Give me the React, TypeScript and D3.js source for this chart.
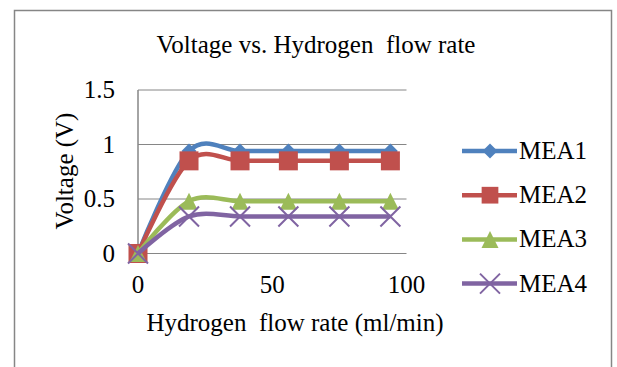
import * as d3 from "d3"

const W = 617
const H = 367
const FONT = '"Liberation Serif", "DejaVu Serif", serif'
const GRID = "#868686"

// flow rate (ml/min)
const flowRates = [0, 19, 38, 56, 75, 94]
// voltage (V)
const mea1 = [0, 0.94, 0.94, 0.94, 0.94, 0.94]
const mea2 = [0, 0.85, 0.85, 0.85, 0.85, 0.85]
const mea3 = [0, 0.48, 0.48, 0.48, 0.48, 0.48]
const mea4 = [0, 0.34, 0.34, 0.34, 0.34, 0.34]
const seriesNames = ["MEA1", "MEA2", "MEA3", "MEA4"]
const seriesColors = ["#4F81BD", "#C0504D", "#9BBB59", "#8064A2"]
const yTicks = [0, 0.5, 1, 1.5]
const xTicks = [0, 50, 100]

const plot = { left: 138, right: 406.5, top: 90, bottom: 253.5 }

const x = d3.scaleLinear().domain([0, 100]).range([plot.left, plot.right])
const y = d3.scaleLinear().domain([0, 1.5]).range([plot.bottom, plot.top])

const line = d3
  .line<[number, number]>()
  .x((d) => x(d[0]))
  .y((d) => y(d[1]))
  .curve(d3.curveCardinal.tension(0))

const textStyle = { fontFamily: FONT, fontSize: "25px", whiteSpace: "pre" as const }

function Marker({ kind, cx, cy, color, size = 1 }: { kind: number; cx: number; cy: number; color: string; size?: number }) {
  if (kind === 0) {
    const r = 7.5 * size
    return <path d={`M${cx},${cy - r}L${cx + r},${cy}L${cx},${cy + r}L${cx - r},${cy}Z`} fill={color} />
  }
  if (kind === 1) {
    const s = 19 * size
    return <rect x={cx - s / 2} y={cy - s / 2} width={s} height={s} fill={color} />
  }
  if (kind === 2) {
    const s = 17 * size
    return <path d={`M${cx},${cy - s / 2}L${cx + s / 2},${cy + s / 2}L${cx - s / 2},${cy + s / 2}Z`} fill={color} />
  }
  const r = 10 * size
  return (
    <path
      d={`M${cx - r},${cy - r}L${cx + r},${cy + r}M${cx - r},${cy + r}L${cx + r},${cy - r}`}
      stroke={color}
      strokeWidth={2}
      fill="none"
    />
  )
}

export default function App() {
  const series = [mea1, mea2, mea3, mea4]

  return (
    <svg width={W} height={H} style={{ position: "absolute", left: 0, top: 0, background: "#fff" }}>
      {/* chart frame */}
      <rect x={14.5} y={10.5} width={597} height={H} fill="#fff" stroke={GRID} strokeWidth={1.5} />

      {/* title */}
      <text x={316} y={53} textAnchor="middle" style={textStyle}>
        {"Voltage vs. Hydrogen  flow rate"}
      </text>

      {/* grid + axes */}
      {yTicks.map((t) => (
        <g key={t}>
          <line x1={plot.left} x2={plot.right} y1={y(t)} y2={y(t)} stroke={GRID} strokeWidth={1} />
          <text x={115} y={y(t) + 8} textAnchor="end" style={textStyle}>
            {t}
          </text>
        </g>
      ))}
      <line x1={plot.left} x2={plot.left} y1={plot.top} y2={plot.bottom} stroke={GRID} strokeWidth={1.5} />
      {xTicks.map((t) => (
        <text key={t} x={x(t)} y={293} textAnchor="middle" style={textStyle}>
          {t}
        </text>
      ))}

      <text transform={`translate(73,171) rotate(-90)`} textAnchor="middle" style={textStyle}>
        Voltage (V)
      </text>
      <text x={295} y={331} textAnchor="middle" style={textStyle}>
        {"Hydrogen  flow rate (ml/min)"}
      </text>

      {/* series */}
      {series.map((vals, i) => {
        const pts = flowRates.map((f, j) => [f, vals[j]] as [number, number])
        return (
          <g key={seriesNames[i]}>
            <path d={line(pts) ?? ""} fill="none" stroke={seriesColors[i]} strokeWidth={4.5} />
            {pts.map((p, j) => (
              <Marker key={j} kind={i} cx={x(p[0])} cy={y(p[1])} color={seriesColors[i]} />
            ))}
          </g>
        )
      })}

      {/* legend */}
      {seriesNames.map((name, i) => {
        const ly = 151 + i * 44.2
        return (
          <g key={name}>
            <line x1={462} x2={517} y1={ly} y2={ly} stroke={seriesColors[i]} strokeWidth={4.5} />
            <Marker kind={i} cx={490} cy={ly} color={seriesColors[i]} size={i === 1 ? 0.88 : 1} />
            <text x={519} y={ly + 8} style={textStyle}>
              {name}
            </text>
          </g>
        )
      })}
    </svg>
  )
}
